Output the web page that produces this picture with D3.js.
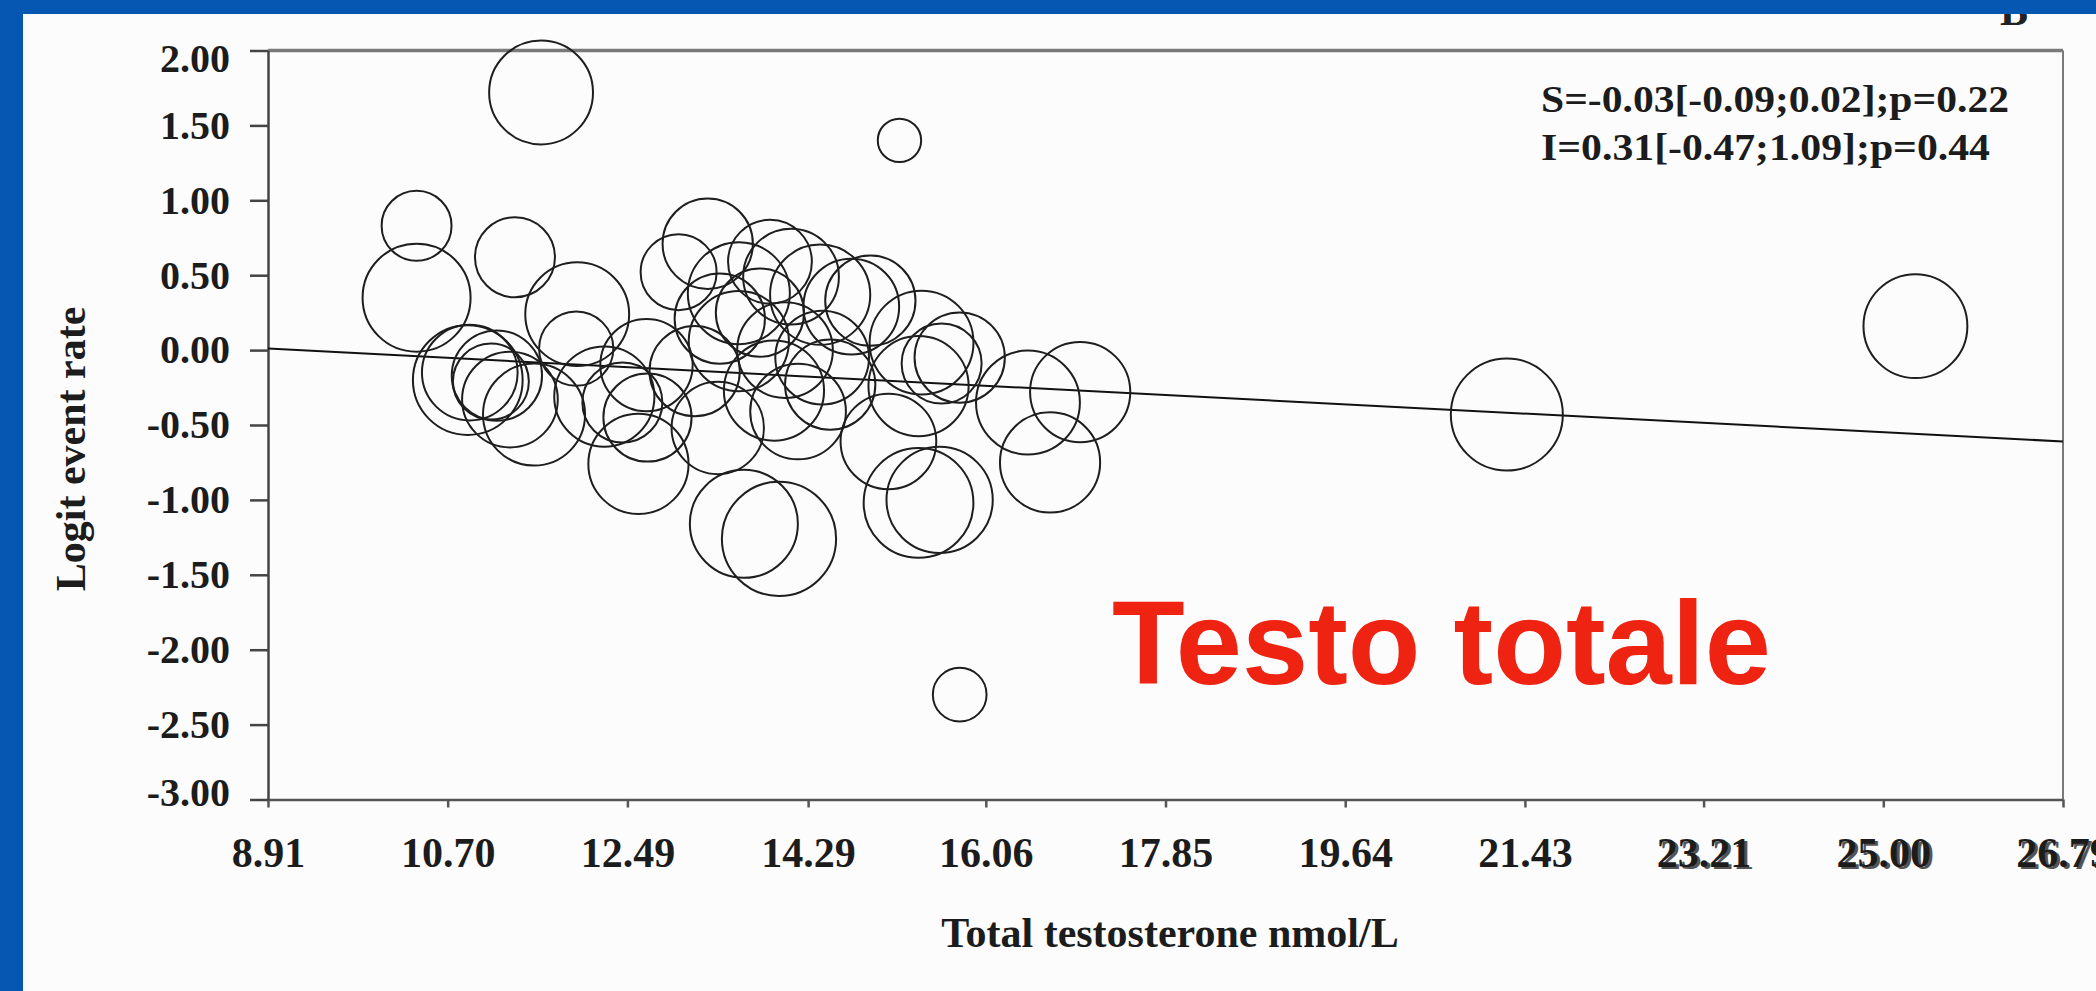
<!DOCTYPE html>
<html>
<head>
<meta charset="utf-8">
<title>Logit event rate vs total testosterone</title>
<script src="https://d3js.org/d3.v7.min.js"></script>
<style>
  body { margin: 0; background: #0557b1; }
  svg { display: block; }
</style>
</head>
<body>
<div id="chart"></div>
<script>
// ---------------- data ----------------
// one entry per study: mean total testosterone (nmol/L), logit event rate, study weight
const testosterone = [10.39, 10.39, 10.90, 10.92, 11.13, 11.19, 11.32, 11.37, 11.56, 11.63,
                      11.98, 11.99, 12.26, 12.44, 12.60, 12.68, 12.69, 13.00, 13.16, 13.29,
                      13.39, 13.41, 13.60, 13.60, 13.65, 13.81, 13.91, 13.95, 14.00, 14.06,
                      14.12, 14.19, 14.41, 14.43, 14.51, 14.72, 14.91, 15.09, 15.20, 15.39,
                      15.42, 15.60, 15.39, 15.62, 15.80, 15.80, 16.48, 16.70, 17.00, 21.25,
                      25.32];
const logitRate = [0.83, 0.35, -0.20, -0.15, -0.21, -0.17, -0.33, 0.62, -0.43, 1.72,
                   0.01, 0.24, -0.31, -0.35, -0.76, -0.10, -0.45, 0.52, -0.14, 0.71,
                   -0.52, 0.21, 0.38, 0.06, -1.16, 0.25, 0.59, -0.27, -1.26, 0.00,
                   0.49, -0.41, 0.37, -0.05, -0.23, 0.29, 0.33, -0.61, 1.40, -0.24,
                   0.05, -1.00, -1.02, -0.09, -0.05, -2.30, -0.35, -0.75, -0.28, -0.43,
                   0.16];
const weight = [39, 93, 96, 73, 46, 65, 73, 51, 83, 86,
                44, 86, 80, 51, 80, 68, 62, 46, 65, 65,
                68, 65, 83, 80, 93, 62, 56, 80, 104, 73,
                73, 73, 80, 70, 65, 73, 65, 73, 15, 80,
                86, 90, 96, 51, 65, 23, 86, 80, 80, 100,
                86];

// fitted meta-regression line (end points)
const fitX = [8.91, 26.79];
const fitY = [0.01, -0.61];

const xTickLabels = ["8.91", "10.70", "12.49", "14.29", "16.06", "17.85",
                     "19.64", "21.43", "23.21", "25.00", "26.79"];
const yTickValues = [2, 1.5, 1, 0.5, 0, -0.5, -1, -1.5, -2, -2.5, -3];

const statLines = ["S=-0.03[-0.09;0.02];p=0.22", "I=0.31[-0.47;1.09];p=0.44"];

// ---------------- layout ----------------
const W = 2096, H = 991;
const plot = {left: 268, right: 2063, top: 50.5, bottom: 799.5};
const serif = "'Liberation Serif', 'Times New Roman', serif";

const svg = d3.select("#chart").append("svg")
    .attr("width", W)
    .attr("height", H);

// white slide panel
svg.append("rect")
    .attr("x", 23).attr("y", 14)
    .attr("width", W - 23).attr("height", H - 14)
    .attr("fill", "#fcfcfc");

// panel letter, mostly hidden under the blue band
svg.append("text")
    .attr("x", 2000).attr("y", 25)
    .attr("font-family", serif).attr("font-weight", "bold")
    .attr("font-size", 42).attr("fill", "#222")
    .text("B");

svg.append("rect")
    .attr("x", 0).attr("y", 0)
    .attr("width", W).attr("height", 14)
    .attr("fill", "#0557b1");

const x = d3.scaleLinear().domain([8.91, 26.79]).range([plot.left, plot.right]);
const y = d3.scaleLinear().domain([-3, 2]).range([plot.bottom, plot.top]);
const r = d3.scaleSqrt().domain([0, 100]).range([0, 56]);

// frame: top and right
svg.append("line")
    .attr("x1", plot.left).attr("x2", plot.right)
    .attr("y1", plot.top).attr("y2", plot.top)
    .attr("stroke", "#7a7a7a").attr("stroke-width", 3.5);
svg.append("line")
    .attr("x1", plot.right).attr("x2", plot.right)
    .attr("y1", plot.top).attr("y2", plot.bottom)
    .attr("stroke", "#7a7a7a").attr("stroke-width", 2);

// ---------------- axes ----------------
const xAxis = d3.axisBottom(x)
    .tickValues(xTickLabels.map(Number))
    .tickFormat((d, i) => xTickLabels[i])
    .tickSize(8).tickSizeOuter(0).tickPadding(30);

const xG = svg.append("g")
    .attr("transform", "translate(0," + plot.bottom + ")")
    .call(xAxis)
    .attr("font-family", serif).attr("font-size", 42).attr("font-weight", "bold");
xG.selectAll("line, path").attr("stroke", "#555").attr("stroke-width", 2.5);
xG.selectAll("text").attr("fill", "#1c1c1c");

// the last three labels are printed with a ghost copy in the source
xG.selectAll(".tick").filter(d => d > 23).append("text")
    .attr("fill", "#1c1c1c").attr("opacity", 0.75)
    .attr("y", 40).attr("dy", "0.71em").attr("dx", 3)
    .text((d, i) => xTickLabels[8 + i]);

const yAxis = d3.axisLeft(y)
    .tickValues(yTickValues)
    .tickFormat(d => d.toFixed(2))
    .tickSize(18).tickSizeOuter(0).tickPadding(20);

const yG = svg.append("g")
    .attr("transform", "translate(" + plot.left + ",0)")
    .call(yAxis)
    .attr("font-family", serif).attr("font-size", 40).attr("font-weight", "bold");
yG.selectAll("line, path").attr("stroke", "#444").attr("stroke-width", 2.5);
yG.selectAll("text").attr("fill", "#1c1c1c")
    .attr("dy", d => d === 2 ? "0.52em" : d === -3 ? "0.15em" : "0.32em");

// axis titles
svg.append("text")
    .attr("transform", "translate(85," + 449 + ") rotate(-90)")
    .attr("text-anchor", "middle")
    .attr("font-family", serif).attr("font-weight", "bold")
    .attr("font-size", 42).attr("fill", "#1c1c1c")
    .text("Logit event rate");

svg.append("text")
    .attr("x", 1170).attr("y", 947)
    .attr("text-anchor", "middle")
    .attr("font-family", serif).attr("font-weight", "bold")
    .attr("font-size", 42).attr("fill", "#1c1c1c")
    .text("Total testosterone nmol/L");

// ---------------- regression line ----------------
const line = d3.line().x(d => x(d[0])).y(d => y(d[1]));
svg.append("path")
    .datum(d3.zip(fitX, fitY))
    .attr("d", line)
    .attr("fill", "none")
    .attr("stroke", "#111")
    .attr("stroke-width", 2);

// ---------------- bubbles ----------------
const studies = testosterone.map((t, i) => ({t: t, v: logitRate[i], w: weight[i]}));

svg.append("g").selectAll("circle")
    .data(studies)
    .join("circle")
    .attr("cx", d => x(d.t))
    .attr("cy", d => y(d.v))
    .attr("r", d => r(d.w))
    .attr("fill", "none")
    .attr("stroke", "#1e1e1e")
    .attr("stroke-width", 2);

// ---------------- annotations ----------------
svg.append("g").selectAll("text")
    .data(statLines)
    .join("text")
    .attr("x", 1541)
    .attr("y", (d, i) => 112 + i * 48)
    .attr("textLength", (d, i) => i === 0 ? 468 : 449)
    .attr("lengthAdjust", "spacingAndGlyphs")
    .attr("font-family", serif).attr("font-weight", "bold")
    .attr("font-size", 37).attr("fill", "#1c1c1c")
    .text(d => d);

svg.append("text")
    .attr("x", 1112).attr("y", 684)
    .attr("font-family", "'Liberation Sans', Arial, sans-serif")
    .attr("font-weight", "bold")
    .attr("font-size", 119)
    .attr("fill", "#ee2312")
    .text("Testo totale");
</script>
</body>
</html>
